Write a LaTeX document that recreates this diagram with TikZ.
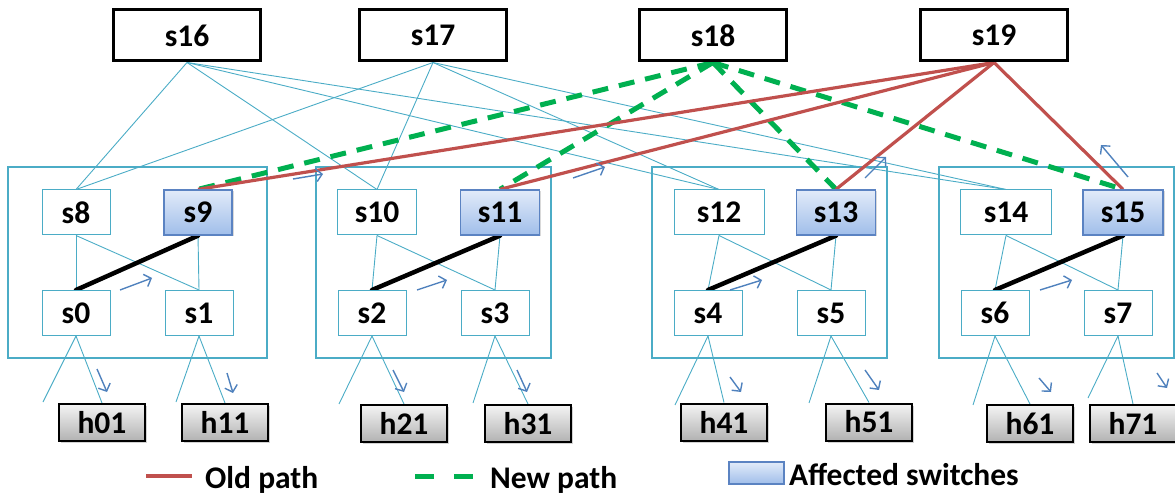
\documentclass[tikz,border=0pt]{standalone}
\usepackage{fontspec}
\setmainfont{Carlito}
\usetikzlibrary{arrows.meta,shadows,backgrounds}

\definecolor{linkcyan}{RGB}{75,172,198}
\definecolor{oldred}{RGB}{192,80,77}
\definecolor{newgreen}{RGB}{0,176,80}
\definecolor{flowblue}{RGB}{79,129,189}
\definecolor{affborder}{RGB}{91,131,194}
\definecolor{afftop}{RGB}{226,235,249}
\definecolor{affbot}{RGB}{160,190,234}
\definecolor{hosttop}{RGB}{244,244,244}
\definecolor{hostbot}{RGB}{178,178,178}

\begin{document}
\begin{tikzpicture}[x=1pt,y=-1pt,
  lbl/.style={font=\fontsize{31.5}{36}\selectfont\bfseries},
  core/.style={lbl, draw=black, line width=3pt, fill=white,
    minimum width=147pt, minimum height=51pt, inner sep=0pt},
  sw/.style={lbl, draw=linkcyan, line width=1pt, fill=white,
    minimum width=68pt, minimum height=45pt, inner sep=0pt},
  aff/.style={sw, draw=affborder, line width=1.3pt,
    top color=afftop, bottom color=affbot,
    drop shadow={shadow xshift=1.5pt, shadow yshift=-1.5pt, opacity=0.3}},
  host/.style={lbl, draw=black, line width=2pt,
    top color=hosttop, bottom color=hostbot,
    minimum width=86pt, minimum height=37pt, inner sep=0pt,
    drop shadow={shadow xshift=2pt, shadow yshift=-2pt, opacity=0.35}},
  pod/.style={draw=linkcyan, line width=1.2pt},
  link/.style={draw=linkcyan, line width=0.9pt},
  oldp/.style={draw=oldred, line width=3.2pt},
  newp/.style={draw=newgreen, line width=5pt, dash pattern=on 16pt off 11pt},
  uplink/.style={draw=black, line width=4.5pt, line cap=round},
  flow/.style={draw=flowblue, line width=1.4pt,
    -{Straight Barb[length=6pt,width=13pt]}}
]
\useasboundingbox (0,0) rectangle (1175,494);

% core switches
\node[core] (s16) at (187,35.5) {s16};
\node[core] (s17) at (433,35.5) {s17};
\node[core] (s18) at (713,35.5) {s18};
\node[core] (s19) at (994,35.5) {s19};

% pod 1
\node[sw]  (s8)  at (76,212.5)  {s8};
\node[aff] (s9)  at (198,212.5) {s9};
\node[sw]  (s0)  at (76,313)    {s0};
\node[sw]  (s1)  at (199,313)   {s1};
% pod 2
\node[sw, minimum width=79pt]  (s10) at (377,212.5) {s10};
\node[aff, minimum width=79pt] (s11) at (500,212.5) {s11};
\node[sw]  (s2)  at (372,313) {s2};
\node[sw]  (s3)  at (495,313) {s3};
% pod 3
\node[sw, minimum width=90pt]  (s12) at (719,212.5) {s12};
\node[aff, minimum width=79pt] (s13) at (836,212.5) {s13};
\node[sw]  (s4)  at (708,313) {s4};
\node[sw]  (s5)  at (831,313) {s5};
% pod 4
\node[sw, minimum width=91pt]  (s14) at (1006,212.5) {s14};
\node[aff, minimum width=80pt] (s15) at (1123,212.5) {s15};
\node[sw]  (s6)  at (995,313)  {s6};
\node[sw]  (s7)  at (1118,313) {s7};

% hosts
\node[host] (h01) at (102,422.5)  {h01};
\node[host] (h11) at (225,422.5)  {h11};
\node[host] (h21) at (404,423.5)  {h21};
\node[host] (h31) at (528,423.5)  {h31};
\node[host] (h41) at (724,422)    {h41};
\node[host] (h51) at (869,422)    {h51};
\node[host] (h61) at (1030,423.5) {h61};
\node[host] (h71) at (1133,423.5) {h71};

% free ends of the host links leading to unlabelled hosts
\coordinate (f0) at (43,402);
\coordinate (f1) at (176,402);
\coordinate (f2) at (339,404);
\coordinate (f3) at (473,403);
\coordinate (f4) at (675,405);
\coordinate (f5) at (809,403);
\coordinate (f6) at (973,405);
\coordinate (f7) at (1088,398);

\begin{scope}[on background layer]
  % pod outlines
  \draw[pod] (8,167) rectangle (267,358);
  \draw[pod] (316,167) rectangle (551,358);
  \draw[pod] (652,167) rectangle (887,358);
  \draw[pod] (939,167) rectangle (1174,358);

  % core to aggregation links
  \foreach \c in {s16,s17}
    \foreach \a in {s8,s10,s12,s14}
      \draw[link] (\c.south) -- (\a.north);

  % aggregation to edge links
  \foreach \l/\r/\el/\er in {s8/s9/s0/s1, s10/s11/s2/s3, s12/s13/s4/s5, s14/s15/s6/s7} {
    \draw[link] (\l.south) -- (\el.north);
    \draw[link] (\l.south) -- (\er.north);
    \draw[link] (\r.south) -- (\er.north);
  }

  % edge to host links
  \foreach \e/\h/\f in {s0/h01/f0, s1/h11/f1, s2/h21/f2, s3/h31/f3,
                        s4/h41/f4, s5/h51/f5, s6/h61/f6, s7/h71/f7} {
    \draw[link] (\e.south) -- (\h.north);
    \draw[link] (\e.south) -- (\f);
  }

  % links carrying the flow inside each pod
  \draw[uplink] (s9.south)  -- (s0.north);
  \draw[uplink] (s11.south) -- (s2.north);
  \draw[uplink] (s13.south) -- (s4.north);
  \draw[uplink] (s15.south) -- (s6.north);

  % new path through s18, old path through s19
  \foreach \a in {s9,s11,s13,s15}
    \draw[newp] (s18.south) -- (\a.north);
  \foreach \a in {s9,s11,s13,s15}
    \draw[oldp] (s19.south) -- (\a.north);
\end{scope}

% flow direction arrows
\draw[flow] (293,179) -- (323,174);
\draw[flow] (573,178) -- (605,167);
\draw[flow] (865,178) -- (886,157);
\draw[flow] (1128,177) -- (1101,145);
\draw[flow] (120,290) -- (152,278);
\draw[flow] (417,290) -- (447,280);
\draw[flow] (730,290) -- (762,280);
\draw[flow] (1040,290) -- (1072,280);
\draw[flow] (97,369) -- (107,392);
\draw[flow] (227,373) -- (233,393);
\draw[flow] (393,370) -- (404,392);
\draw[flow] (517,370) -- (527,392);
\draw[flow] (730,377) -- (741,392);
\draw[flow] (865,370) -- (879,390);
\draw[flow] (1039,378) -- (1051,392);
\draw[flow] (1157,373) -- (1167,388);

% legend
\draw[draw=oldred, line width=4pt] (146,476) -- (192,476);
\node[lbl, anchor=base west, inner sep=0pt] (lold) at (205,488) {Old path};
\draw[draw=newgreen, line width=5pt] (415,476) -- (434,476);
\draw[draw=newgreen, line width=5pt] (454,476) -- (473,476);
\node[lbl, anchor=base west, inner sep=0pt] (lnew) at (490,488) {New path};
\draw[draw=affborder, line width=1.3pt, top color=afftop, bottom color=affbot]
  (729,462) rectangle (784,484);
\node[lbl, anchor=base west, inner sep=0pt] (laff) at (789,485) {Affected switches};
\end{tikzpicture}
\end{document}
